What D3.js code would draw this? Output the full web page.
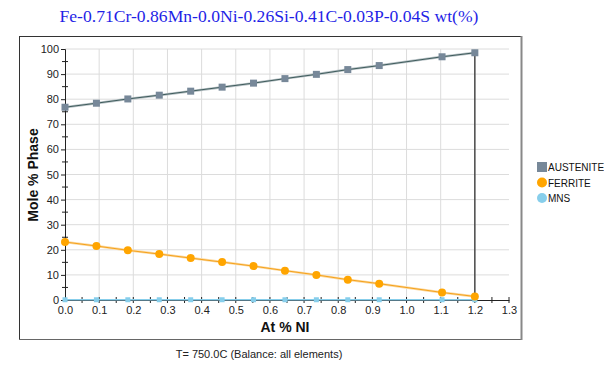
<!DOCTYPE html>
<html><head><meta charset="utf-8">
<script src="https://cdn.jsdelivr.net/npm/d3@7"></script>
<style>
html,body{margin:0;padding:0;background:#fff;}
svg{display:block;}
</style></head>
<body>
<svg id="chart" width="604" height="369"></svg>
<script>
const titleText = "Fe-0.71Cr-0.86Mn-0.0Ni-0.26Si-0.41C-0.03P-0.04S wt(%)";
const footerText = "T= 750.0C (Balance: all elements)";
const xLabel = "At % NI";
const yLabel = "Mole % Phase";
const seriesNames = ["AUSTENITE", "FERRITE", "MNS"];
const xValues = [0, 0.092, 0.184, 0.276, 0.368, 0.46, 0.552, 0.644, 0.736, 0.828, 0.92, 1.104, 1.2];
const austenite = [76.8, 78.4, 80.1, 81.6, 83.2, 84.8, 86.4, 88.2, 89.9, 91.8, 93.4, 96.9, 98.5];
const ferrite = [23.1, 21.5, 19.8, 18.3, 16.7, 15.1, 13.5, 11.7, 10.0, 8.1, 6.5, 3.0, 1.4];
const mns = [0.1, 0.1, 0.1, 0.1, 0.1, 0.1, 0.1, 0.1, 0.1, 0.1, 0.1, 0.1, 0.1];
const xTicks = [0, 0.1, 0.2, 0.3, 0.4, 0.5, 0.6, 0.7, 0.8, 0.9, 1.0, 1.1, 1.2, 1.3];
const yTicks = [0, 10, 20, 30, 40, 50, 60, 70, 80, 90, 100];

const svg = d3.select("#chart");
const x = d3.scaleLinear().domain([0, 1.3]).range([65, 509]);
const y = d3.scaleLinear().domain([0, 100]).range([300, 49]);

// frame
svg.append("line").attr("x1",19.5).attr("x2",19.5).attr("y1",36).attr("y2",339.5).attr("stroke","#333");
svg.append("line").attr("x1",19).attr("x2",521.5).attr("y1",36.5).attr("y2",36.5).attr("stroke","#333");
svg.append("line").attr("x1",19).attr("x2",522).attr("y1",339.5).attr("y2",339.5).attr("stroke","#666");
svg.append("line").attr("x1",521.5).attr("x2",521.5).attr("y1",36).attr("y2",340).attr("stroke","#888").attr("stroke-width",2);

// title
svg.append("text").attr("x",269).attr("y",22).attr("text-anchor","middle")
  .attr("font-family","'Liberation Serif','Times New Roman',serif").attr("font-size",17.6)
  .attr("fill","#1f1fe6").text(titleText);

// gridlines
const grid = svg.append("g");
grid.selectAll("line.v").data(xTicks.filter(d=>d>0 && d<1.25)).join("line")
  .attr("x1",d=>x(d)).attr("x2",d=>x(d)).attr("y1",y(100)).attr("y2",y(0))
  .attr("stroke","#dcdcdc").attr("stroke-width",1);
grid.selectAll("line.h").data(yTicks.filter(d=>d>0)).join("line")
  .attr("x1",x(0)).attr("x2",x(1.3)).attr("y1",d=>y(d)).attr("y2",d=>y(d))
  .attr("stroke","#dcdcdc").attr("stroke-width",1);

// axes
const xAxis = svg.append("g").attr("transform",`translate(0,${y(0)})`)
  .call(d3.axisBottom(x).tickValues(xTicks).tickFormat(d3.format(".1f")).tickSize(0).tickPadding(6));
const yAxis = svg.append("g").attr("transform",`translate(${x(0)},0)`)
  .call(d3.axisLeft(y).tickValues(yTicks).tickSize(4).tickPadding(2));
[xAxis,yAxis].forEach(a=>{
  a.select(".domain").attr("stroke","#222");
  a.selectAll("text").attr("font-family","'Liberation Sans',Arial,sans-serif").attr("font-size",11).attr("fill","#222");
  a.selectAll("line").attr("stroke","#222");
});
// minor ticks
const xMinor = d3.range(1,27).map(i=>i*0.05);
svg.append("g").selectAll("line").data(xMinor).join("line")
  .attr("x1",d=>x(d)).attr("x2",d=>x(d)).attr("y1",y(0)-3).attr("y2",y(0)+3).attr("stroke","#222");
const yMinor = d3.range(0,20).map(i=>i*5+5).filter(d=>d%10!==0);
svg.append("g").selectAll("line").data(yMinor).join("line")
  .attr("x1",x(0)-3).attr("x2",x(0)+3).attr("y1",d=>y(d)).attr("y2",d=>y(d)).attr("stroke","#222");

// axis labels
svg.append("text").attr("x",285).attr("y",332).attr("text-anchor","middle")
  .attr("font-family","'Liberation Sans',Arial,sans-serif").attr("font-weight","bold").attr("font-size",14)
  .attr("fill","#111").text(xLabel);
svg.append("text").attr("transform","translate(38,175) rotate(-90)").attr("text-anchor","middle")
  .attr("font-family","'Liberation Sans',Arial,sans-serif").attr("font-weight","bold").attr("font-size",14)
  .attr("fill","#111").text(yLabel);

// vertical line at last x
const lastI = xValues.length-1;
svg.append("line").attr("x1",x(xValues[lastI])).attr("x2",x(xValues[lastI]))
  .attr("y1",y(austenite[lastI])).attr("y2",y(0)).attr("stroke","#333").attr("stroke-width",1.3);

const line = d3.line().x((d,i)=>x(xValues[i])).y(d=>y(d));
// MNS
svg.append("path").datum(mns).attr("d",line).attr("fill","none").attr("stroke","#87ceeb").attr("stroke-width",1.5);
svg.append("g").selectAll("rect").data(mns).join("rect")
  .attr("x",(d,i)=>x(xValues[i])-2.5).attr("y",d=>y(d)-2.5).attr("width",5).attr("height",5).attr("fill","#87ceeb");
// Ferrite
svg.append("path").datum(ferrite).attr("d",line).attr("fill","none").attr("stroke","#fcd9a0").attr("stroke-width",2.5);
svg.append("path").datum(ferrite).attr("d",line).attr("fill","none").attr("stroke","#f5a21c").attr("stroke-width",1);
svg.append("g").selectAll("circle").data(ferrite).join("circle")
  .attr("cx",(d,i)=>x(xValues[i])).attr("cy",d=>y(d)).attr("r",4).attr("fill","#ffa500");
// Austenite
svg.append("path").datum(austenite).attr("d",line).attr("fill","none").attr("stroke","#b8c2c6").attr("stroke-width",2.5);
svg.append("path").datum(austenite).attr("d",line).attr("fill","none").attr("stroke","#3f5c5c").attr("stroke-width",1);
svg.append("g").selectAll("rect").data(austenite).join("rect")
  .attr("x",(d,i)=>x(xValues[i])-3.5).attr("y",d=>y(d)-3.5).attr("width",7).attr("height",7).attr("fill","#778899");

// legend
const colors = ["#778899","#ffa500","#87ceeb"];
const lg = svg.append("g");
seriesNames.forEach((n,i)=>{
  const cy = 167 + i*15.5;
  if(i===0){
    lg.append("rect").attr("x",537).attr("y",cy-5).attr("width",10).attr("height",10).attr("fill",colors[i]);
  } else {
    lg.append("circle").attr("cx",542).attr("cy",cy).attr("r",5).attr("fill",colors[i]);
  }
  lg.append("text").attr("x",548).attr("y",cy+4).attr("font-family","'Liberation Sans',Arial,sans-serif")
    .attr("font-size",10).attr("fill","#111").text(n);
});

// footer
svg.append("text").attr("x",259).attr("y",358).attr("text-anchor","middle")
  .attr("font-family","'Liberation Sans',Arial,sans-serif").attr("font-size",11).attr("fill","#222").text(footerText);
</script>
</body></html>
